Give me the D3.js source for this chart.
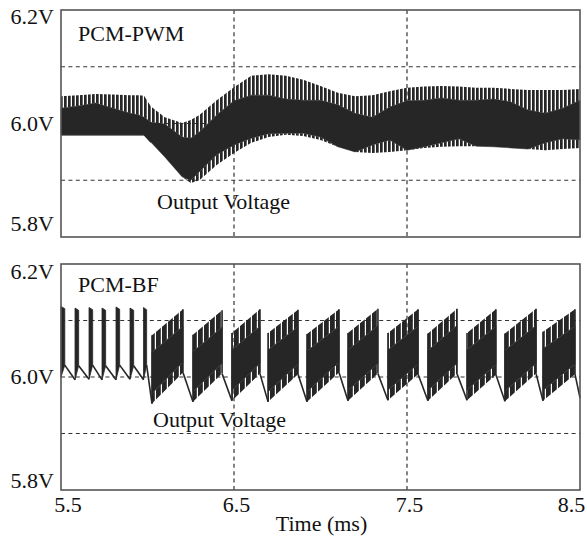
<!DOCTYPE html>
<html><head><meta charset="utf-8">
<script src="https://cdn.jsdelivr.net/npm/d3@7"></script>
<style>
body{margin:0;background:#fff}
svg{display:block}
text{font-family:"Liberation Serif","Times New Roman",serif;fill:#111}
</style>
</head><body>
<svg id="c" width="587" height="538"></svg>
<script>
// ---------- data ----------
const xTicks = [5.5, 6.5, 7.5, 8.5];
const yTicks = [5.8, 6.0, 6.2];
const gridV = [5.9, 6.0, 6.1];
const gridT = [6.5, 7.5];

// PCM-PWM ripple envelope (ms, V)
const pwmTime       = [5.5,5.6,5.7,5.8,5.9,5.95,5.98,6.02,6.1,6.2,6.25,6.3,6.4,6.5,6.6,6.7,6.8,6.9,7.0,7.1,7.2,7.3,7.4,7.5,7.6,7.7,7.8,7.9,8.0,8.1,8.2,8.3,8.4,8.5];
const pwmUpper      = [6.048,6.050,6.052,6.051,6.050,6.050,6.049,6.030,6.011,6.001,6.006,6.015,6.041,6.064,6.084,6.087,6.084,6.077,6.066,6.054,6.048,6.050,6.057,6.063,6.065,6.066,6.065,6.063,6.063,6.061,6.059,6.059,6.059,6.061];
const pwmUpperInner = [6.027,6.031,6.036,6.027,6.018,6.015,6.011,6.002,5.999,5.976,5.974,5.985,6.015,6.040,6.050,6.050,6.043,6.041,6.041,6.033,6.018,6.011,6.029,6.040,6.041,6.045,6.041,6.041,6.043,6.038,6.024,6.018,6.027,6.041];
const pwmLowerInner = [5.980,5.980,5.980,5.980,5.980,5.980,5.980,5.967,5.941,5.906,5.900,5.915,5.945,5.962,5.974,5.982,5.983,5.983,5.976,5.959,5.950,5.962,5.971,5.953,5.959,5.966,5.973,5.960,5.959,5.957,5.955,5.966,5.973,5.971];
const pwmLower      = [5.980,5.980,5.980,5.980,5.980,5.980,5.980,5.967,5.941,5.906,5.895,5.900,5.927,5.948,5.966,5.976,5.980,5.978,5.971,5.959,5.950,5.948,5.950,5.953,5.957,5.959,5.960,5.960,5.959,5.957,5.955,5.953,5.955,5.957];

// PCM-BF: early single pulses
const bfPulseStart = [5.500,5.581,5.662,5.737,5.818,5.899,5.977];
const bfPulseEnd   = [5.522,5.602,5.683,5.758,5.839,5.920,5.995];
const bfPulseTop   = [6.125,6.122,6.123,6.122,6.124,6.122,6.123];
const bfPulseLow   = [6.000,5.995,5.996,5.995,5.995,5.996,5.995];
const bfPulseHigh  = [6.021,6.020,6.021,6.020,6.021,6.020,6.021];

// PCM-BF: bursts
const bfBurstStart = [6.026,6.263,6.488,6.697,6.922,7.159,7.390,7.621,7.847,8.066,8.286];
const bfBurstEnd   = [6.205,6.431,6.650,6.870,7.107,7.332,7.564,7.789,8.014,8.246,8.471];
const bfTopStart   = [6.074,6.075,6.078,6.078,6.076,6.078,6.078,6.077,6.078,6.077,6.080];
const bfTopEnd     = [6.120,6.118,6.120,6.119,6.120,6.121,6.120,6.121,6.120,6.121,6.120];
const bfLowStart   = [5.953,5.956,5.958,5.956,5.956,5.958,5.959,5.958,5.959,5.957,5.958];
const bfLowEnd     = [6.008,6.006,6.006,6.005,6.008,6.006,6.005,6.006,6.004,6.006,6.005];
const bfTailTime = 8.5, bfTailValue = 5.963;

// ---------- drawing ----------
const DARK = "#262626";
const svg = d3.select("#c");
const defs = svg.append("defs");
function stripes(id, period, bar){
  defs.append("pattern").attr("id", id).attr("patternUnits","userSpaceOnUse")
    .attr("width", period).attr("height", 20)
    .append("rect").attr("width", bar).attr("height", 20).attr("fill", DARK);
}
stripes("pwmS", 4, 2.7);
stripes("bfS", 6, 4.8);

const x = d3.scaleLinear().domain([5.5, 8.5]).range([61, 580]);
const yA = d3.scaleLinear().domain([5.8, 6.2]).range([237, 10]);
const yB = d3.scaleLinear().domain([5.8, 6.2]).range([490, 264]);

function grid(g, y){
  g.selectAll("line.h").data(gridV).join("line").attr("class","h")
    .attr("x1", x.range()[0]).attr("x2", x.range()[1])
    .attr("y1", d => y(d)).attr("y2", d => y(d));
  g.selectAll("line.v").data(gridT).join("line").attr("class","v")
    .attr("x1", d => x(d)).attr("x2", d => x(d))
    .attr("y1", y.range()[1]).attr("y2", y.range()[0]);
  g.selectAll("line").attr("stroke","#333").attr("stroke-width",1.2).attr("stroke-dasharray","4,3.4");
}
function frame(y){
  svg.append("rect").attr("x", x.range()[0]).attr("y", y.range()[1])
    .attr("width", x.range()[1]-x.range()[0]).attr("height", y.range()[0]-y.range()[1])
    .attr("fill","none").attr("stroke","#555").attr("stroke-width",1.6);
}
function yAxis(y, offs){
  const g = svg.append("g").attr("transform", `translate(${x.range()[0]},0)`)
    .call(d3.axisLeft(y).tickValues(yTicks).tickSize(0).tickPadding(7).tickFormat(d => d.toFixed(1) + "V"));
  g.select(".domain").remove();
  g.selectAll("text").attr("dy", null).attr("y", (d,i) => offs[i])
    .style("font-family", '"Liberation Serif",serif').style("font-size","22px").attr("fill","#111");
}

// ----- top panel -----
const gA = svg.append("g");
grid(gA, yA);
const idx = pwmTime.map((t,i) => i);
const band = (hi, lo, y) => d3.area().x(i => x(pwmTime[i])).y0(i => y(lo[i])).y1(i => y(hi[i]));
gA.append("path").attr("d", band(pwmUpper, pwmUpperInner, yA)(idx)).attr("fill","url(#pwmS)");
gA.append("path").attr("d", band(pwmUpperInner, pwmLowerInner, yA)(idx)).attr("fill",DARK).attr("stroke",DARK).attr("stroke-width",0.5);
gA.append("path").attr("d", band(pwmLowerInner, pwmLower, yA)(idx)).attr("fill","url(#pwmS)");
gA.append("path").attr("d", d3.line().x(i => x(pwmTime[i])).y(i => yA(pwmLower[i]))(idx.slice(0,8)))
  .attr("fill","none").attr("stroke",DARK).attr("stroke-width",1.2);
frame(yA);
yAxis(yA, [-7, 6.5, 13.5]);
svg.append("text").attr("x",78).attr("y",41).style("font-size","22px").text("PCM-PWM");
svg.append("text").attr("x",157).attr("y",209).style("font-size","22px").text("Output Voltage");

// ----- bottom panel -----
const gB = svg.append("g");
grid(gB, yB);
const line = d3.line().x(d => x(d[0])).y(d => yB(d[1]));
const segs = [];
bfPulseStart.forEach((s,i) => {
  const nxt = i < bfPulseStart.length-1 ? [bfPulseStart[i+1], bfPulseLow[i+1]] : [bfBurstStart[0], bfLowStart[0]];
  segs.push([[bfPulseEnd[i], bfPulseHigh[i]], nxt]);
});
bfBurstStart.forEach((s,i) => {
  const nxt = i < bfBurstStart.length-1 ? [bfBurstStart[i+1], bfLowStart[i+1]] : [bfTailTime, bfTailValue];
  segs.push([[bfBurstEnd[i], bfLowEnd[i]], nxt]);
});
gB.selectAll("path.trace").data(segs).join("path").attr("class","trace")
  .attr("d", d => line(d)).attr("fill","none").attr("stroke",DARK).attr("stroke-width",1.6);
// pulses
gB.selectAll("path.pulse").data(bfPulseStart.map((s,i)=>i)).join("path").attr("class","pulse")
  .attr("d", i => line([[bfPulseStart[i], bfPulseLow[i]], [bfPulseStart[i], bfPulseTop[i]], [bfPulseEnd[i], bfPulseTop[i]-0.004], [bfPulseEnd[i], bfPulseHigh[i]]]) + "Z")
  .attr("fill",DARK).attr("stroke",DARK).attr("stroke-width",0.8);
// bursts: top striped band, solid core, bottom striped band
const TOPD = 0.030, BOTD = 0.018;
const bi = bfBurstStart.map((s,i)=>i);
gB.selectAll("path.bt").data(bi).join("path").attr("class","bt")
  .attr("d", i => line([[bfBurstStart[i], bfTopStart[i]], [bfBurstEnd[i], bfTopEnd[i]], [bfBurstEnd[i], bfTopEnd[i]-TOPD], [bfBurstStart[i], bfTopStart[i]-TOPD]]) + "Z")
  .attr("fill","url(#bfS)");
gB.selectAll("path.bc").data(bi).join("path").attr("class","bc")
  .attr("d", i => line([[bfBurstStart[i], bfTopStart[i]-TOPD], [bfBurstEnd[i], bfTopEnd[i]-TOPD], [bfBurstEnd[i], bfLowEnd[i]+BOTD], [bfBurstStart[i], bfLowStart[i]+BOTD]]) + "Z")
  .attr("fill",DARK).attr("stroke",DARK).attr("stroke-width",0.6);
gB.selectAll("path.bb").data(bi).join("path").attr("class","bb")
  .attr("d", i => line([[bfBurstStart[i], bfLowStart[i]+BOTD], [bfBurstEnd[i], bfLowEnd[i]+BOTD], [bfBurstEnd[i], bfLowEnd[i]], [bfBurstStart[i], bfLowStart[i]]]) + "Z")
  .attr("fill","url(#bfS)");
gB.selectAll("path.be").data(bi).join("path").attr("class","be")
  .attr("d", i => line([[bfBurstStart[i], bfLowStart[i]], [bfBurstStart[i], bfTopStart[i]]]) + line([[bfBurstEnd[i], bfLowEnd[i]], [bfBurstEnd[i], bfTopEnd[i]]]))
  .attr("stroke",DARK).attr("stroke-width",1.6).attr("fill","none");
frame(yB);
yAxis(yB, [-3, 6, 14]);
svg.append("text").attr("x",78).attr("y",292).style("font-size","22px").text("PCM-BF");
svg.append("text").attr("x",153).attr("y",427).style("font-size","22px").text("Output Voltage");

// x axis
const xa = svg.append("g").attr("transform","translate(0,490)")
  .call(d3.axisBottom(x).tickValues(xTicks).tickSize(0).tickFormat(d => d.toFixed(1)));
xa.select(".domain").remove();
const dxs = [6.5, 2, 2, -9];
xa.selectAll("text").attr("dy", null).attr("y", 22).attr("dx", (d,i) => dxs[i])
  .style("font-family", '"Liberation Serif",serif').style("font-size","22px").attr("fill","#111");
svg.append("text").attr("x",321.5).attr("y",531).attr("text-anchor","middle").style("font-size","22px").text("Time (ms)");
</script>
</body></html>
